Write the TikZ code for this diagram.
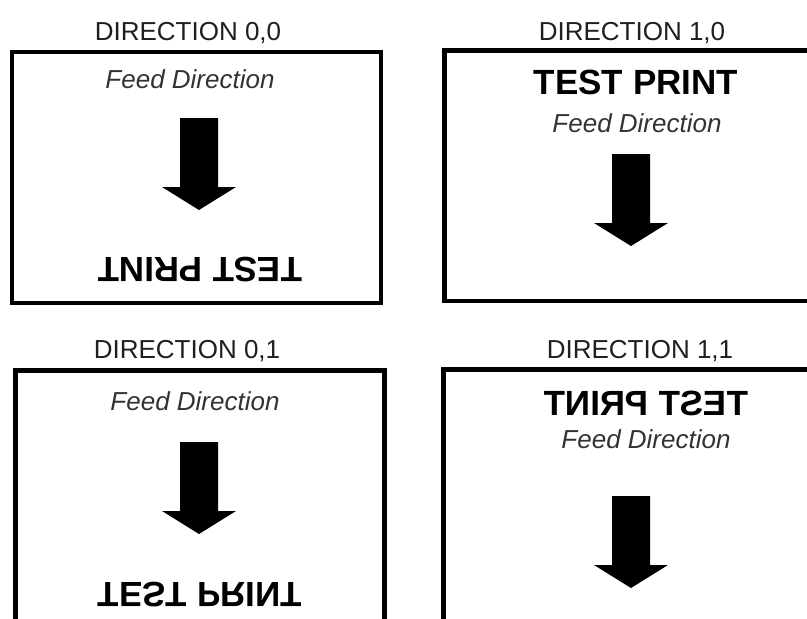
\documentclass[tikz,border=0pt]{standalone}
\usepackage{fontspec}
\setmainfont{Liberation Sans}
\begin{document}
\begin{tikzpicture}[x=1pt,y=-1pt,
  frame/.style={line width=4.5pt},
  title/.style={font=\fontsize{26}{30}\selectfont, text=black!88, anchor=base, inner sep=0pt},
  feed/.style={font=\fontsize{26}{30}\selectfont\itshape, text=black!80, anchor=base, inner sep=0pt},
  testprint/.style={font=\fontsize{35}{40}\selectfont\bfseries, inner sep=0pt},
  feedarrow/.pic={\fill[black] (-19,0) -- (19,0) -- (19,69) -- (37,69) -- (0,92) -- (-37,69) -- (-19,69) -- cycle;}
]
\useasboundingbox (0,0) rectangle (807,619);
\clip (0,0) rectangle (807,619);

% Direction 0,0
\node[title] (t00) at (188,40) {DIRECTION 0,0};
\draw[frame] (12,52) rectangle (381,303);
\node[feed] (f00) at (190,88) {Feed Direction};
\pic at (199,118) {feedarrow};
\node[testprint, rotate=180] (p00) at (200,270) {TEST PRINT};

% Direction 1,0
\node[title] (t10) at (632,40) {DIRECTION 1,0};
\draw[frame] (444.5,50.5) rectangle (830,301);
\node[testprint] (p10) at (636,82.5) {TEST PRINT};
\node[feed] (f10) at (637,132.5) {Feed Direction};
\pic at (631,154) {feedarrow};

% Direction 0,1
\node[title] (t01) at (187,358) {DIRECTION 0,1};
\draw[frame] (15.5,370.5) rectangle (384.5,640);
\node[feed] (f01) at (195,410) {Feed Direction};
\pic at (199,442) {feedarrow};
\node[testprint] (p01) at (200,594.5) {\scalebox{1}[-1]{TEST PRINT}};

% Direction 1,1
\node[title] (t11) at (640,358) {DIRECTION 1,1};
\draw[frame] (443.5,369.5) rectangle (830,640);
\node[testprint] (p11) at (646,403) {\scalebox{-1}[1]{TEST PRINT}};
\node[feed] (f11) at (646,448) {Feed Direction};
\pic at (631,496) {feedarrow};
\end{tikzpicture}
\end{document}
